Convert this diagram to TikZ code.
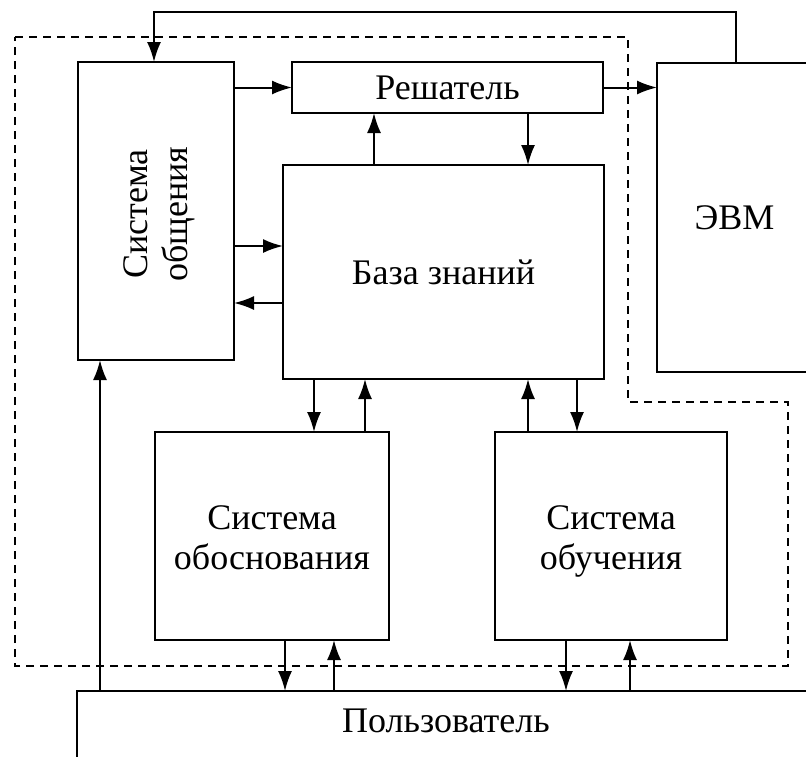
\documentclass[tikz,border=0pt]{standalone}
\usepackage{fontspec}
\setmainfont{Liberation Serif}
\usetikzlibrary{positioning}
\usetikzlibrary{arrows.meta}
\tikzset{
    mybox/.style = {rectangle, draw=black, line width=1.2pt, inner sep=0pt, outer sep=0pt, align=center, fill=white},
    mytext/.style = {align=center, font=\fontsize{18}{20}\selectfont, text=black},
    edgen/.style = {-{Latex[length=10pt,width=7pt]}, line width=1pt, black},
    edgebd/.style = {-, line width=1.2pt, black, dash pattern=on 4pt off 3pt}, % boundary
}

\begin{document}
\begin{tikzpicture}[x=0.5pt,y=-0.5pt]
  \useasboundingbox (0,0) rectangle (806,756);
  \draw[edgebd] (15,37) -- (628,37) -- (628,402) -- (788,402) -- (788,666) -- (15,666) -- cycle;

  \node[mybox, minimum width=78pt, minimum height=149pt] (obsh) at (156,211) {};
  \node[mytext, rotate=90] (obshtxt) at (159,214) {\strut Система\\\strut общения};
  \node[mybox, mytext, minimum width=155.5pt, minimum height=25.5pt] (resh) at (447.5,87.5) {Решатель};
  \node[mybox, mytext, minimum width=77.5pt, minimum height=154.5pt] (evm) at (734.5,217.5) {ЭВМ};
  \node[mybox, mytext, minimum width=160.5pt, minimum height=107pt] (base) at (443.5,272) {База знаний};
  \node[mybox, mytext, minimum width=117pt, minimum height=104pt] (obosn) at (272,536) {};
  \node[mytext] (obosntxt) at (272,541) {\strut Система\\\strut обоснования};
  \node[mybox, mytext, minimum width=116pt, minimum height=104pt] (obuch) at (611,536) {};
  \node[mytext] (obuchtxt) at (611,541) {\strut Система\\\strut обучения};
  \node[mybox, minimum width=369pt, minimum height=40pt] (user) at (446,731) {};
  \node[mytext] (usertxt) at (446,721) {Пользователь};

  \coordinate (top) at (0,12);
  \foreach \n/\x in {xk/154, xr/736, xu/100, xa/374, xb/528, xc/314, xd/365, xe/577, xf/285, xg/334, xh/566, xi/630}
    \coordinate (\n) at (\x,0);
  \coordinate (ya) at (0,246);
  \coordinate (yb) at (0,303);

  \draw[edgen] (xr |- evm.north) -- (xr |- top) -- (xk |- top) -- (xk |- obsh.north);
  \draw[edgen] (obsh.east |- resh.west) -- (resh.west);
  \draw[edgen] (resh.east) -- (resh.east -| evm.west);
  \draw[edgen] (xa |- base.north) -- (xa |- resh.south);
  \draw[edgen] (xb |- resh.south) -- (xb |- base.north);
  \draw[edgen] (obsh.east |- ya) -- (base.west |- ya);
  \draw[edgen] (base.west |- yb) -- (obsh.east |- yb);
  \draw[edgen] (xc |- base.south) -- (xc |- obosn.north);
  \draw[edgen] (xd |- obosn.north) -- (xd |- base.south);
  \draw[edgen] (xb |- obuch.north) -- (xb |- base.south);
  \draw[edgen] (xe |- base.south) -- (xe |- obuch.north);
  \draw[edgen] (xf |- obosn.south) -- (xf |- user.north);
  \draw[edgen] (xg |- user.north) -- (xg |- obosn.south);
  \draw[edgen] (xh |- obuch.south) -- (xh |- user.north);
  \draw[edgen] (xi |- user.north) -- (xi |- obuch.south);
  \draw[edgen] (xu |- user.north) -- (xu |- obsh.south);
\end{tikzpicture}
\end{document}
